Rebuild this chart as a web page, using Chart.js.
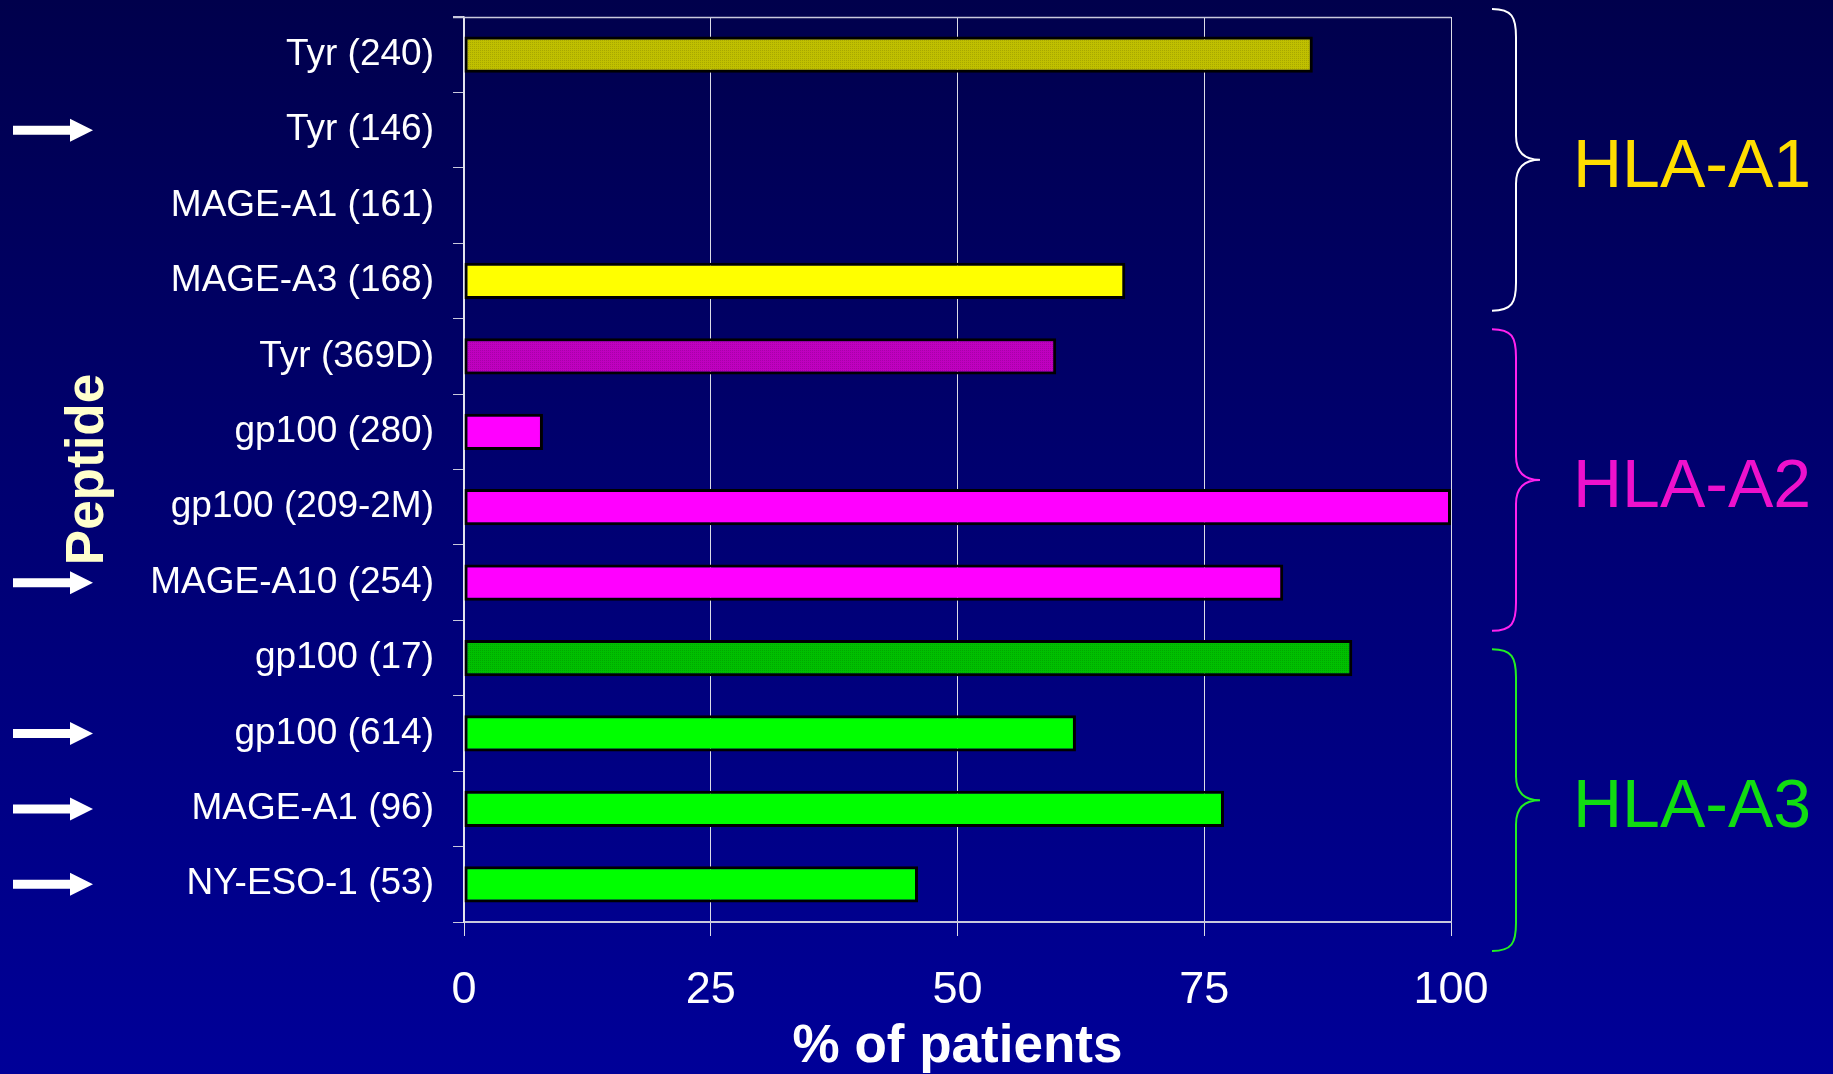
<!DOCTYPE html>
<html>
<head>
<meta charset="utf-8">
<script src="https://cdn.jsdelivr.net/npm/chart.js@4.4.1/dist/chart.umd.min.js"></script>
<style>
  html, body { margin: 0; padding: 0; }
  body { width: 1833px; height: 1074px; overflow: hidden;
         background: linear-gradient(to bottom, #00004c 0%, #000070 45%, #000098 100%); }
  #wrap { position: relative; width: 1833px; height: 1074px; }
</style>
</head>
<body>
<div id="wrap"><canvas id="myChart"></canvas></div>
<script>
// data
const peptides = ['Tyr (240)', 'Tyr (146)', 'MAGE-A1 (161)', 'MAGE-A3 (168)',
                  'Tyr (369D)', 'gp100 (280)', 'gp100 (209-2M)', 'MAGE-A10 (254)',
                  'gp100 (17)', 'gp100 (614)', 'MAGE-A1 (96)', 'NY-ESO-1 (53)'];
const patients = [86, 0, 0, 67, 60, 8, 100, 83, 90, 62, 77, 46];
const arrowed  = [false, true, false, false, false, false, false, true, false, true, true, true];
const stippled = [true, false, false, false, true, false, false, false, true, false, false, false];
const hlaGroups = ['HLA-A1', 'HLA-A2', 'HLA-A3'];
const groupSizes = [4, 4, 4];
const xTicks = [0, 25, 50, 75, 100];

// colours
const groupFill  = ['#ffff00', '#ff00ff', '#00ff00'];
const groupShade = ['#c0c000', '#c000c0', '#00c000'];
const groupDot   = ['#a8a800', '#a800a8', '#00a800'];
const braceColor = ['#ffffff', '#ff22ee', '#22ee22'];
const labelColor = ['#ffdd00', '#ee11cc', '#11dd11'];
const FONT = "'Liberation Sans', Arial, sans-serif";

function groupOf(i) {
    let acc = 0;
    for (let g = 0; g < groupSizes.length; g++) {
        acc += groupSizes[g];
        if (i < acc) return g;
    }
    return groupSizes.length - 1;
}

// little dotted fill for the darker bars
function stipple(base, dot) {
    const c = document.createElement('canvas');
    c.width = 4; c.height = 4;
    const x = c.getContext('2d');
    x.fillStyle = base;
    x.fillRect(0, 0, 4, 4);
    x.fillStyle = dot;
    x.fillRect(0, 0, 1, 1);
    x.fillRect(2, 2, 1, 1);
    x.fillRect(2, 0, 1, 1);
    x.fillRect(0, 2, 1, 1);
    return x.createPattern(c, 'repeat');
}

const barColors = patients.map((v, i) => {
    const g = groupOf(i);
    return stippled[i] ? stipple(groupShade[g], groupDot[g]) : groupFill[g];
});

// top line of the plot frame
const framePlugin = {
    id: 'frame',
    beforeDatasetsDraw(chart) {
        const { ctx, chartArea } = chart;
        ctx.save();
        ctx.strokeStyle = '#c8c8dc';
        ctx.lineWidth = 1.5;
        ctx.beginPath();
        ctx.moveTo(chartArea.left - 11, chartArea.top + 0.5);
        ctx.lineTo(chartArea.right, chartArea.top + 0.5);
        ctx.stroke();
        ctx.restore();
    }
};

// white arrows in front of some peptides
const arrowPlugin = {
    id: 'arrows',
    afterDraw(chart) {
        const { ctx } = chart;
        const y = chart.scales.y;
        ctx.save();
        ctx.fillStyle = '#ffffff';
        arrowed.forEach((on, i) => {
            if (!on) return;
            const cy = y.getPixelForValue(i);
            ctx.beginPath();
            ctx.moveTo(13, cy - 4.5);
            ctx.lineTo(70, cy - 4.5);
            ctx.lineTo(70, cy - 11.5);
            ctx.lineTo(93, cy);
            ctx.lineTo(70, cy + 11.5);
            ctx.lineTo(70, cy + 4.5);
            ctx.lineTo(13, cy + 4.5);
            ctx.closePath();
            ctx.fill();
        });
        ctx.restore();
    }
};

// braces + HLA labels on the right
const bracePlugin = {
    id: 'braces',
    afterDraw(chart) {
        const { ctx, chartArea } = chart;
        const y = chart.scales.y;
        const half = (y.getPixelForValue(1) - y.getPixelForValue(0)) / 2;
        const tipX = chartArea.right + 41;
        const stemX = chartArea.right + 65;
        const pointX = chartArea.right + 89;
        let start = 0;
        ctx.save();
        hlaGroups.forEach((name, g) => {
            const end = start + groupSizes[g] - 1;
            const shift = -8 + 18.5 * g;
            const top = y.getPixelForValue(start) - half + shift;
            const bottom = y.getPixelForValue(end) + half + shift;
            const mid = (top + bottom) / 2;
            ctx.strokeStyle = braceColor[g];
            ctx.lineWidth = 2;
            ctx.beginPath();
            ctx.moveTo(tipX, top);
            ctx.bezierCurveTo(stemX - 4, top, stemX, top + 8, stemX, top + 28);
            ctx.lineTo(stemX, mid - 24);
            ctx.bezierCurveTo(stemX, mid - 6, pointX - 14, mid, pointX, mid);
            ctx.bezierCurveTo(pointX - 14, mid, stemX, mid + 6, stemX, mid + 24);
            ctx.lineTo(stemX, bottom - 28);
            ctx.bezierCurveTo(stemX, bottom - 8, stemX - 4, bottom, tipX, bottom);
            ctx.stroke();

            ctx.fillStyle = labelColor[g];
            ctx.font = '68px ' + FONT;
            ctx.textAlign = 'left';
            ctx.textBaseline = 'middle';
            ctx.fillText(name, pointX + 33, mid + 8);
            start = end + 1;
        });
        ctx.restore();
    }
};

const data = {
    labels: peptides,
    datasets: [{
        label: '% of patients',
        data: patients,
        backgroundColor: barColors,
        borderColor: '#000000',
        borderWidth: 3,
        borderSkipped: false,
        categoryPercentage: 1,
        barPercentage: 0.48
    }]
};

const config = {
    type: 'bar',
    data,
    options: {
        indexAxis: 'y',
        responsive: true,
        maintainAspectRatio: false,
        animation: false,
        layout: { padding: { top: 17, right: 382, left: 0, bottom: 0 } },
        plugins: {
            legend: { display: false },
            tooltip: { enabled: false }
        },
        scales: {
            x: {
                type: 'linear',
                min: 0,
                max: 100,
                afterBuildTicks: (scale) => { scale.ticks = xTicks.map(v => ({ value: v })); },
                afterFit: (scale) => { scale.height = 152; },
                ticks: {
                    color: '#ffffff',
                    font: { family: FONT, size: 45 },
                    padding: 28,
                    maxRotation: 0
                },
                grid: {
                    color: '#dcdce6',
                    lineWidth: 1,
                    tickLength: 14
                },
                border: { color: '#c8c8dc', width: 2 },
                title: {
                    display: true,
                    text: '% of patients',
                    color: '#ffffff',
                    font: { family: FONT, size: 53, weight: 'bold', lineHeight: 1.0 },
                    padding: { top: 0, bottom: 0 }
                }
            },
            y: {
                afterFit: (scale) => {
                    scale.width = 464;
                    scale.paddingTop = 0;
                    scale.paddingBottom = 0;
                },
                ticks: {
                    color: '#ffffff',
                    font: { family: FONT, size: 37 },
                    padding: 19
                },
                grid: {
                    drawOnChartArea: false,
                    color: '#c8c8dc',
                    tickLength: 11,
                    offset: true
                },
                border: { color: '#e6e6f0', width: 1.5 },
                title: {
                    display: true,
                    text: 'Peptide',
                    color: '#ffffcc',
                    font: { family: FONT, size: 53, weight: 'bold' },
                    padding: { top: 57, bottom: 0 }
                }
            }
        }
    },
    plugins: [framePlugin, arrowPlugin, bracePlugin]
};

const myChart = new Chart(document.getElementById('myChart'), config);
</script>
</body>
</html>
